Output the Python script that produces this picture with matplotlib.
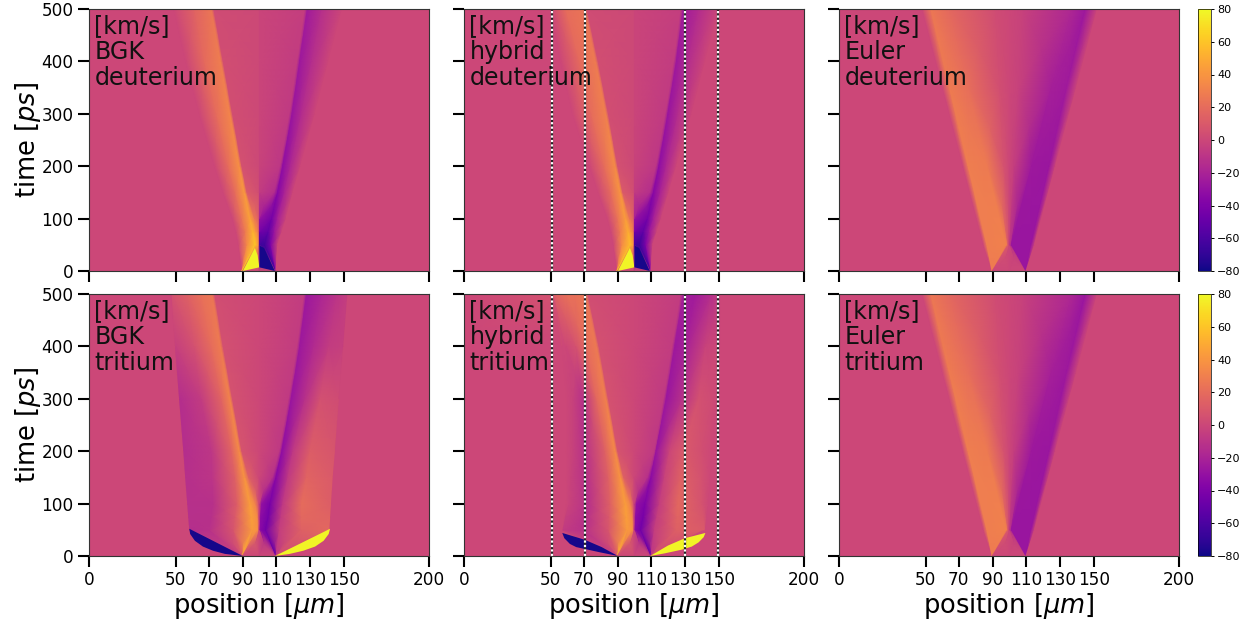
"""
Velocity maps of deuterium and tritium for BGK, hybrid and Euler runs
"""

import numpy as np
import matplotlib
matplotlib.use("Agg")
import matplotlib.pyplot as plt
from matplotlib.cm import ScalarMappable
from matplotlib.colors import Normalize

W, H = 1251, 621
vmin, vmax = -80, 80

# time rows of the kinetic panels and of the Euler panels, ps
t_knots = [0, 50, 75, 100, 150, 200, 300, 400, 500]
t_euler = [0, 50, 200, 350, 500]

xtick_pos = [0, 51, 70.5, 90.5, 110, 130, 150, 200]
xtick_labels = ["0", "50", "70", "90", "110", "130", "150", "200"]
ytick_pos = [0, 100, 200, 300, 400, 500]
cbar_ticks = [-80, -60, -40, -20, 0, 20, 40, 60, 80]
buffer_lines = [51.6, 71, 129.8, 149.3]

# each row is one time, each column one feature followed in time
# columns: edge, shoulder, ridge, ridge end, centre-, centre+, ridge end, ridge, shoulder, edge
bgk_d_x = [
    [0, 90, 90, 90, 90.5, 100, 100, 109.5, 110, 110, 110, 200],
    [0, 88, 93, 97.7, 98.8, 99.7, 100.3, 100.6, 103.5, 107, 111, 200],
    [0, 86.5, 92, 96.3, 98.3, 99.7, 100.3, 100.6, 105.5, 109, 113.5, 200],
    [0, 84.5, 90, 94.7, 97.5, 99.7, 100.3, 100.7, 107.5, 111, 116, 200],
    [0, 79, 86, 91.5, 93, 99.7, 100.3, 109, 111, 115, 120, 200],
    [0, 74, 82, 88.5, 90, 99.7, 100.3, 112.5, 114, 118.5, 124.5, 200],
    [0, 65, 75, 83, 84.5, 99.7, 100.3, 118, 119.5, 125, 133, 200],
    [0, 57, 68, 77.5, 79, 99.7, 100.3, 122.5, 124, 131, 141, 200],
    [0, 50, 62, 72, 73.5, 99.7, 100.3, 127, 128.5, 137, 149, 200],
]
bgk_d_v = [
    [0, 0, 30, 60, 0, 0, 0, 0, -60, -30, 0, 0],
    [0, 0, 35, 60, 52, 38, -65, -65, -65, -40, 0, 0],
    [0, 0, 28, 52, 40, 26, -45, -45, -52, -28, 0, 0],
    [0, 0, 24, 46, 25, 14, -22, -30, -44, -22, 0, 0],
    [0, 0, 20, 42, 10, 4, -6, -14, -36, -20, 0, 0],
    [0, 0, 20, 38, 5, 1, -2, -9, -32, -18, 0, 0],
    [0, 0, 20, 33, 4, 1, -1, -7, -28, -15, 0, 0],
    [0, 0, 19, 29, 4, 1, -1, -6, -26, -14, 0, 0],
    [0, 0, 15, 25, 3, 1, -1, -5, -24, -13, 0, 0],
]
hyb_d_x = [
    [0, 90, 90, 90, 90.5, 100, 100, 109.5, 110, 110, 110, 200],
    [0, 88, 93, 97.7, 98.8, 99.7, 100.3, 100.6, 103.5, 107, 111, 200],
    [0, 86.5, 92, 96.5, 98.3, 99.7, 100.3, 100.6, 105.5, 109, 113.5, 200],
    [0, 84.5, 90.5, 95, 97.5, 99.7, 100.3, 100.7, 108, 111.5, 116, 200],
    [0, 79, 86.5, 92, 93.5, 99.7, 100.3, 109.5, 111.5, 115.5, 120.5, 200],
    [0, 74, 82.5, 89, 90.5, 99.7, 100.3, 113, 114.7, 119, 125, 200],
    [0, 64, 75, 83.5, 85, 99.7, 100.3, 118.5, 120, 126, 134, 200],
    [0, 57, 68, 77.5, 79, 99.7, 100.3, 123.5, 125, 132, 142, 200],
    [0, 51, 60, 71, 72.5, 99.7, 100.3, 127.5, 129, 138, 150, 200],
]
hyb_d_v = [
    [0, 0, 30, 60, 0, 0, 0, 0, -60, -30, 0, 0],
    [0, 0, 35, 58, 52, 38, -65, -65, -65, -40, 0, 0],
    [0, 0, 28, 50, 40, 26, -45, -45, -52, -28, 0, 0],
    [0, 0, 24, 44, 25, 14, -22, -30, -44, -22, 0, 0],
    [0, 0, 20, 40, 10, 4, -6, -14, -36, -20, 0, 0],
    [0, 0, 20, 36, 5, 1, -2, -9, -32, -18, 0, 0],
    [0, 0, 20, 31, 4, 1, -1, -7, -28, -14, 0, 0],
    [0, 0, 19, 28, 4, 1, -1, -6, -26, -14, 0, 0],
    [0, 0, 20, 24, 3, 1, -1, -5, -24, -15, 0, 0],
]

# columns: step, step+, shoulder, shoulder, ridge, ridge end, centre, mirrored on the right
bgk_t_x = [
    [0, 90, 90, 90, 90, 90, 90.3, 100, 109.7, 110, 110, 110, 110, 110, 200],
    [0, 59, 59.3, 71, 85, 96, 99.3, 100, 100.7, 104, 112, 125, 141.5, 141.8, 200],
    [0, 58.4, 58.7, 72, 86, 95.5, 99, 100, 101, 105.5, 113, 125, 141.9, 142.2, 200],
    [0, 57.8, 58.1, 73, 87, 94.7, 98, 100, 101.5, 106.5, 114, 125, 142.4, 142.7, 200],
    [0, 56.6, 56.9, 72.5, 86, 91.5, 94, 100, 108, 110, 117, 128, 143.4, 143.7, 200],
    [0, 55.5, 55.8, 72, 84, 88.5, 90, 100, 112, 113.5, 120, 130, 144.7, 145, 200],
    [0, 53, 53.3, 66, 78, 83, 84.5, 100, 117.5, 119, 127, 136, 147, 147.3, 200],
    [0, 50.6, 50.9, 62, 72, 77.5, 79, 100, 122.5, 124, 132, 141, 149.6, 149.9, 200],
    [0, 48.6, 48.9, 58, 66, 72.5, 74, 100, 126.5, 128, 137, 146, 152, 152.3, 200],
]
bgk_t_v = [
    [0, 0, 0, 0, 10, 50, 0, 0, 0, -50, -10, 0, 0, 0, 0],
    [0, 0, -14, -12, 8, 42, 38, 0, -35, -45, -5, 14, 18, 0, 0],
    [0, 0, -13, -12, 10, 44, 35, 0, -33, -44, -6, 18, 15, 0, 0],
    [0, 0, -13, -12, 12, 44, 30, 0, -30, -42, -8, 20, 12, 0, 0],
    [0, 0, -13, -10, 14, 40, 14, 0, -12, -36, -8, 16, 10, 0, 0],
    [0, 0, -14, -9, 16, 36, 7, 0, -8, -32, -8, 12, 8, 0, 0],
    [0, 0, -14, -6, 16, 32, 6, 0, -7, -28, -12, 5, 3, 0, 0],
    [0, 0, -4, 5, 20, 28, 5, 0, -6, -26, -16, -6, -4, 0, 0],
    [0, 0, 6, 14, 22, 26, 4, 0, -6, -26, -18, -10, -5, 0, 0],
]
hyb_t_x = [
    [0, 90, 90, 90, 90, 90, 90.3, 100, 109.7, 110, 110, 110, 110, 110, 200],
    [0, 58, 58.3, 71, 85, 96, 99.3, 100, 100.7, 104, 112, 125, 141.5, 142, 200],
    [0, 59, 60, 72, 85.5, 95.5, 99, 100, 101, 105.5, 113.5, 125.5, 141, 143, 200],
    [0, 60, 62, 73, 86, 95, 98, 100, 101.5, 106.5, 115, 126, 140, 144, 200],
    [0, 60, 63, 72, 85, 92, 94, 100, 108, 110, 118, 127.5, 140, 145, 200],
    [0, 60, 64, 71, 83, 89, 90.5, 100, 112, 113, 121, 129, 140, 146, 200],
    [0, 60, 64, 70, 78, 83.5, 85, 100, 117.5, 119, 128, 138, 146, 149, 200],
    [0, 57.5, 60, 66, 72, 78, 79.5, 100, 122.5, 124, 131, 142, 149, 151, 200],
    [0, 52.5, 53, 60, 65, 71.6, 73, 100, 127.5, 129, 136, 145, 149.5, 151, 200],
]
hyb_t_v = [
    [0, 0, 0, 0, 10, 50, 0, 0, 0, -50, -10, 0, 0, 0, 0],
    [0, 0, -6, -12, 8, 42, 38, 0, -35, -45, -5, 14, 10, 0, 0],
    [0, 0, -4, -12, 10, 44, 34, 0, -33, -43, -5, 16, 8, 0, 0],
    [0, 0, -2, -12, 14, 44, 30, 0, -30, -40, -5, 18, 6, 0, 0],
    [0, 0, -3, -12, 14, 40, 14, 0, -12, -34, -2, 14, 5, 0, 0],
    [0, 0, -3, -12, 14, 35, 7, 0, -8, -28, 0, 10, 4, 0, 0],
    [0, 0, -3, -12, 18, 31, 6, 0, -7, -27, -12, 5, 2, 0, 0],
    [0, 0, 0, 6, 20, 27, 5, 0, -6, -26, -20, -2, 0, 0, 0],
    [0, 6, 14, 22, 22, 25, 4, 0, -6, -22, -24, -14, -6, 0, 0],
]

# Euler columns: edge, outer, inner, fade end, centre, mirrored on the right
eul_d_x = [
    [0, 90, 90, 90, 90.2, 100, 109.8, 110, 110, 110, 200],
    [0, 85, 87, 98.5, 99.5, 100, 100.5, 101.5, 113, 115, 200],
    [0, 73, 76, 87.3, 97, 100, 103, 113.3, 123.7, 127.3, 200],
    [0, 61, 65, 76.2, 94.5, 100, 105.5, 125, 134, 139.7, 200],
    [0, 49, 54, 65, 92, 100, 108, 137, 145, 152, 200],
]
eul_d_v = [
    [0, 0, 28, 28, 0, 0, 0, -28, -28, 0, 0],
    [0, 0, 29, 31, 10, 0, -10, -28, -28, 0, 0],
    [0, 0, 29, 27, 6, 0, -5, -26, -27, 0, 0],
    [0, 0, 28, 21, 4, 0, -3, -22, -25, 0, 0],
    [0, 0, 26, 18, 3, 0, -3, -18, -26, 0, 0],
]
eul_t_x = [
    [0, 90, 90, 90, 90.2, 100, 109.8, 110, 110, 110, 200],
    [0, 85, 87, 98.5, 99.5, 100, 100.5, 101.5, 113, 115, 200],
    [0, 73, 76, 87.3, 97, 100, 103, 113.3, 123.7, 127.3, 200],
    [0, 61, 65, 76.2, 94.5, 100, 105.5, 125, 134, 139.7, 200],
    [0, 49, 54, 65, 92, 100, 108, 137, 145, 152, 200],
]
eul_t_v = [
    [0, 0, 28, 28, 0, 0, 0, -28, -28, 0, 0],
    [0, 0, 29, 31, 10, 0, -10, -28, -28, 0, 0],
    [0, 0, 29, 27, 6, 0, -5, -26, -27, 0, 0],
    [0, 0, 28, 21, 4, 0, -3, -22, -26, 0, 0],
    [0, 0, 26, 18, 3, 0, -3, -18, -27, 0, 0],
]

# saturated patches near the start: (x, t, velocity)
d_tip_left = ([90.5, 97.6, 99.2, 100.2], [0, 44, 30, 7], 78)
d_tip_right = ([100.2, 100.5, 103, 109.3], [7, 48, 44, 0], -78)
bgk_t_tip_left = ([59, 90.5, 80, 73, 67, 62.3, 59.5], [52, 0, 4, 10, 18, 29, 42], -78)
bgk_t_tip_right = ([141.8, 109.4, 118, 126, 133, 138, 141], [52, 0, 4, 10, 18, 29, 42], 78)
hyb_t_tip_left = ([57.8, 71, 81, 90.5, 80, 73, 66, 62.3, 59], [44, 31, 17, 0, 7, 12, 17, 23, 34], -78)
hyb_t_tip_right = ([142, 130, 120, 109.5, 118, 128, 134, 138, 141], [44, 34, 20, 0, 5, 12, 18, 26, 36], 78)

norm = Normalize(vmin, vmax)
cmap = plt.get_cmap("plasma")


def draw_field(ax, times, xs, vs, tips=()):
    X = np.array(xs, dtype=float)
    V = np.array(vs, dtype=float)
    T = np.tile(np.array(times, dtype=float)[:, None], (1, X.shape[1]))
    ax.pcolormesh(X, T, V, shading="gouraud", cmap=cmap, norm=norm)
    for tip_x, tip_t, tip_v in tips:
        ax.fill(tip_x, tip_t, color=cmap(norm(tip_v)), lw=0, zorder=3)


panels = [
    (0, 0, "BGK\ndeuterium", t_knots, bgk_d_x, bgk_d_v, (d_tip_left, d_tip_right)),
    (0, 1, "hybrid\ndeuterium", t_knots, hyb_d_x, hyb_d_v, (d_tip_left, d_tip_right)),
    (0, 2, "Euler\ndeuterium", t_euler, eul_d_x, eul_d_v, ()),
    (1, 0, "BGK\ntritium", t_knots, bgk_t_x, bgk_t_v, (bgk_t_tip_left, bgk_t_tip_right)),
    (1, 1, "hybrid\ntritium", t_knots, hyb_t_x, hyb_t_v, (hyb_t_tip_left, hyb_t_tip_right)),
    (1, 2, "Euler\ntritium", t_euler, eul_t_x, eul_t_v, ()),
]
col_left = [89, 464, 839]
row_top = [9, 294]
ax_w, ax_h = 340, 262

fig = plt.figure(figsize=(W / 100, H / 100), dpi=100)

for row, col, name, times, xs, vs, tips in panels:
    ax = fig.add_axes([col_left[col] / W, 1 - (row_top[row] + ax_h) / H, ax_w / W, ax_h / H])
    draw_field(ax, times, xs, vs, tips)
    ax.set_xlim(0, 200)
    ax.set_ylim(0, 500)
    ax.set_xticks(xtick_pos)
    ax.set_yticks(ytick_pos)
    ax.tick_params(length=8, width=1.5, labelsize=12.2, pad=3)
    ax.set_xticklabels(xtick_labels if row == 1 else [])
    if col != 0:
        ax.set_yticklabels([])
    for spine in ax.spines.values():
        spine.set_linewidth(0.8)
        spine.set_color("#333333")
        spine.set_zorder(6)
    if col == 1:
        for pos in buffer_lines:
            ax.axvline(pos, color="#222222", lw=1.6, zorder=4)
            ax.axvline(pos, color="white", lw=1.6, ls=(0, (1, 1)), zorder=5)
    ax.text(0.016, 0.98, "[km/s]\n" + name, transform=ax.transAxes, ha="left", va="top",
            fontsize=17.1, color="#111111", linespacing=1.1, zorder=7)
    if row == 1:
        ax.set_xlabel(r"position [$\mu m$]", fontsize=18.5, labelpad=1)
    if col == 0:
        ax.set_ylabel(r"time [$ps$]", fontsize=18.5, labelpad=-1)

for top in row_top:
    cax = fig.add_axes([1198 / W, 1 - (top + ax_h) / H, 13 / W, ax_h / H])
    cb = fig.colorbar(ScalarMappable(norm=norm, cmap=cmap), cax=cax, ticks=cbar_ticks)
    cb.ax.tick_params(labelsize=8, length=2.5, width=0.7, pad=2)
    cb.outline.set_linewidth(0.5)

fig.savefig("out.png", dpi=100)
